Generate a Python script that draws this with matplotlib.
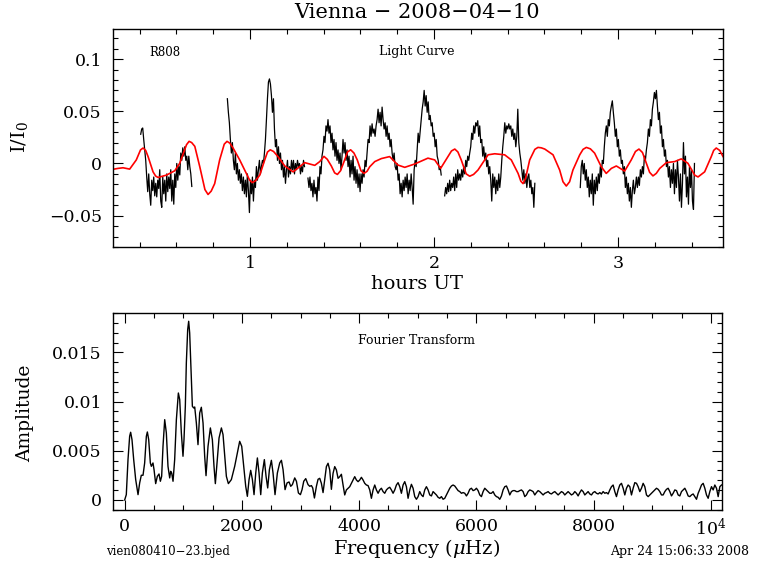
import numpy as np
import matplotlib
matplotlib.use('Agg')
import matplotlib.pyplot as plt
from matplotlib.ticker import MultipleLocator, FuncFormatter

plt.rcParams['font.family'] = ['DejaVu Serif']
plt.rcParams['mathtext.fontset'] = 'dejavuserif'

# ---- light curve (hours UT, relative intensity), 5 runs with gaps ----
cadence_h = 19.6 / 3600.0
seg_start = [0.406, 0.877, 1.315, 2.058, 2.795]

seg1 = [0.028, 0.033, 0.034, 0.023, 0.013, 0.003, -0.013, -0.027, -0.010, -0.029,
        -0.040, -0.016, -0.026, -0.013, -0.031, -0.019, -0.032, -0.016, -0.024, -0.006,
        -0.036, -0.042, -0.013, -0.029, -0.016, -0.036, -0.010, -0.027, -0.013, -0.024,
        -0.006, -0.036, -0.016, -0.039, -0.010, -0.023, 0.000, -0.016, -0.003, -0.011,
        0.010, 0.003, 0.015, 0.007, 0.016, 0.003, 0.007, -0.006, 0.007, -0.003,
        -0.010, -0.022]
seg2 = [0.062, 0.049, 0.039, 0.023, 0.010, 0.020, 0.003, -0.006, 0.010, -0.010,
        0.000, -0.016, -0.006, -0.019, -0.010, -0.026, -0.013, -0.029, -0.016, -0.032,
        -0.010, -0.026, -0.047, -0.016, -0.029, -0.013, -0.036, -0.016, -0.023, -0.003,
        -0.016, -0.006, 0.003, -0.010, -0.003, 0.003, 0.000, 0.010, 0.023, 0.042,
        0.062, 0.078, 0.081, 0.076, 0.065, 0.049, 0.062, 0.033, 0.016, 0.023,
        0.003, 0.016, 0.000, 0.010, -0.006, 0.003, -0.013, -0.003, -0.019, -0.006,
        0.003, -0.013, -0.003, -0.010, 0.003, -0.006, 0.003, -0.010, 0.000, -0.006,
        0.003, -0.003, 0.000, -0.010, -0.003, -0.008, 0.003, -0.003]
seg3 = [-0.014, -0.023, -0.013, -0.026, -0.019, -0.032, -0.016, -0.029, -0.023, -0.036,
        -0.013, -0.026, -0.003, -0.010, 0.007, 0.013,
        0.026, 0.020, 0.036, 0.031, 0.042, 0.029, 0.036, 0.020, 0.029, 0.013,
        0.023, 0.007, 0.020, 0.003, 0.013, 0.000, 0.010, -0.006, 0.007, 0.023,
        0.010, 0.020, 0.003, 0.013, -0.003, 0.007, -0.013, 0.003, -0.010, 0.007,
        -0.016, -0.003, -0.019, -0.006, -0.023, -0.010, -0.027, -0.010, -0.019, -0.006,
        -0.013, 0.003, -0.003, 0.010, 0.023, 0.020, 0.036, 0.026, 0.038, 0.029,
        0.033, 0.026, 0.036, 0.042, 0.052, 0.039, 0.049, 0.036, 0.054, 0.042,
        0.033, 0.039, 0.026, 0.036, 0.023, 0.029, 0.016, 0.023, 0.010, 0.003,
        0.010, -0.003, -0.006, 0.000, -0.016, -0.010, -0.029, -0.019, -0.032, -0.016,
        -0.026, -0.013, -0.023, -0.010, -0.029, -0.016, -0.026, -0.010, -0.023, -0.039,
        -0.006, 0.003, -0.003, 0.013, 0.029, 0.020, 0.031, 0.042, 0.052, 0.059,
        0.070, 0.055, 0.065, 0.049, 0.059, 0.042, 0.046, 0.036, 0.039, 0.026,
        0.029, 0.016, 0.023, 0.007, 0.003, -0.006, -0.003, -0.011]
seg4 = [-0.031, -0.023, -0.029, -0.019, -0.027, -0.016, -0.026, -0.019, -0.023, -0.013,
        -0.026, -0.010, -0.023, -0.006, -0.016, -0.010, -0.016, -0.006, -0.013, -0.003,
        -0.010, 0.003, -0.003, 0.007, 0.003, 0.010, 0.016, 0.029, 0.023, 0.036,
        0.029, 0.039, 0.036, 0.041, 0.026, 0.036, 0.020, 0.023, 0.007, 0.016,
        0.003, 0.010, -0.003, 0.003, -0.010, -0.003, -0.016, -0.036, -0.010, -0.023,
        -0.013, -0.029, -0.016, -0.026, -0.010, -0.023, -0.013, 0.003, 0.016, 0.026,
        0.039, 0.029, 0.036, 0.033, 0.038, 0.033, 0.036, 0.026, 0.033, 0.023,
        0.029, 0.016, 0.026, 0.052, 0.020, 0.010, 0.003, -0.006, -0.016, -0.006,
        -0.019, -0.010, -0.023, -0.013, -0.010, -0.023, -0.016, -0.029, -0.023, -0.042,
        -0.019]
seg5 = [-0.023, -0.003, 0.003, -0.010, 0.000, -0.016, -0.006, -0.023, -0.013, -0.032,
        -0.016, -0.029, -0.010, -0.040, -0.016, -0.029, -0.013, -0.026, -0.010, -0.019,
        -0.003, -0.013, 0.003, 0.000, 0.016, 0.029, 0.036, 0.026, 0.042, 0.036,
        0.049, 0.055, 0.060, 0.049, 0.039, 0.026, 0.033, 0.016, 0.023, 0.007,
        0.013, 0.000, 0.003, -0.010, -0.003, -0.023, -0.013, -0.029, -0.019, -0.036,
        -0.023, -0.042, -0.026, -0.016, -0.029, -0.023, -0.013, -0.023, -0.013, -0.021,
        -0.006, -0.013, -0.003, -0.010, 0.007, 0.003, 0.013, 0.020, 0.033, 0.026,
        0.042, 0.036, 0.052, 0.059, 0.068, 0.062, 0.070, 0.055, 0.042, 0.049,
        0.029, 0.036, 0.016, 0.023, 0.007, 0.013, -0.003, 0.003, -0.013, -0.003,
        -0.023, -0.006, -0.019, 0.000, -0.029, -0.006, -0.023, 0.003, -0.013, -0.036,
        -0.010, -0.042, -0.019, 0.020, -0.010, 0.007, -0.032, -0.013, -0.039, -0.003,
        -0.023, -0.006, -0.036, -0.044, 0.000]
segments = [seg1, seg2, seg3, seg4, seg5]

# ---- multi-sine fit (red) ----
fit_hours = [0.255, 0.283, 0.310, 0.346, 0.382, 0.405, 0.419, 0.433, 0.446, 0.473,
             0.487, 0.500, 0.545, 0.591, 0.618, 0.645, 0.655, 0.669, 0.683, 0.700,
             0.727, 0.755, 0.772, 0.789, 0.808, 0.835, 0.860, 0.875, 0.890, 0.908,
             0.944, 0.980, 0.998, 1.013, 1.030, 1.053, 1.080, 1.095, 1.110, 1.128,
             1.152, 1.189, 1.234, 1.270, 1.297, 1.325, 1.352, 1.379, 1.402, 1.420,
             1.442, 1.460, 1.475, 1.492, 1.511, 1.530, 1.547, 1.565, 1.583, 1.603,
             1.620, 1.636, 1.651, 1.678, 1.714, 1.759, 1.804, 1.841, 1.895, 1.967,
             2.004, 2.036, 2.076, 2.095, 2.113, 2.130, 2.148, 2.175, 2.194, 2.215,
             2.239, 2.294, 2.330, 2.384, 2.420, 2.457, 2.472, 2.484, 2.498, 2.520,
             2.548, 2.565, 2.583, 2.602, 2.647, 2.683, 2.701, 2.719, 2.737, 2.755,
             2.792, 2.810, 2.828, 2.850, 2.873, 2.909, 2.936, 2.964, 2.991, 3.036,
             3.072, 3.095, 3.114, 3.133, 3.154, 3.172, 3.190, 3.208, 3.227, 3.263,
             3.308, 3.344, 3.380, 3.417, 3.435, 3.471, 3.507, 3.520, 3.534, 3.553,
             3.571]
fit_flux = [-0.0056, -0.0047, -0.0041, -0.0054, 0.0034, 0.0130, 0.0148, 0.0125, 0.0066, -0.0080,
            -0.0120, -0.0134, -0.0112, -0.0070, 0.0002, 0.0131, 0.0180, 0.0212, 0.0200, 0.0164,
            -0.0031, -0.0250, -0.0297, -0.0265, -0.0193, 0.0034, 0.0185, 0.0212, 0.0195, 0.0148,
            0.0034, -0.0095, -0.0160, -0.0183, -0.0165, -0.0112, 0.0034, 0.0110, 0.0131, 0.0115,
            0.0066, -0.0024, -0.0080, -0.0031, 0.0008, -0.0005, -0.0018, 0.0018, 0.0068, 0.0040,
            -0.0024, -0.0090, -0.0105, -0.0070, 0.0018, 0.0110, 0.0131, 0.0100, 0.0034, -0.0070,
            -0.0095, -0.0075, -0.0031, 0.0018, 0.0047, 0.0066, -0.0015, -0.0037, -0.0005, 0.0051,
            0.0034, -0.0047, 0.0066, 0.0120, 0.0138, 0.0110, 0.0034, -0.0100, -0.0122, -0.0105,
            -0.0063, 0.0083, 0.0093, 0.0083, 0.0034, -0.0095, -0.0170, -0.0193, -0.0140, 0.0034,
            0.0135, 0.0154, 0.0150, 0.0138, 0.0083, -0.0063, -0.0175, -0.0216, -0.0175, -0.0063,
            0.0083, 0.0135, 0.0154, 0.0140, 0.0099, -0.0031, -0.0095, -0.0047, -0.0024, -0.0073,
            0.0034, 0.0115, 0.0138, 0.0105, 0.0002, -0.0085, -0.0119, -0.0095, -0.0047, 0.0008,
            0.0018, 0.0044, 0.0002, -0.0112, -0.0129, -0.0080, 0.0066, 0.0125, 0.0148, 0.0125,
            0.0066]

# ---- amplitude spectrum ----
ft_freq_low = [0, 28, 57, 85, 102, 125, 154, 188, 228, 256,
               284, 313, 341, 370, 387, 410, 438, 455, 483, 501,
               529, 557, 586, 609, 631, 654, 683, 711, 739, 768,
               785, 802, 825, 853, 882, 916, 939, 967, 995, 1012,
               1035, 1052, 1075, 1092, 1109, 1138, 1155, 1177, 1195, 1223,
               1251, 1280, 1308, 1337, 1365, 1388, 1422, 1462, 1496, 1524,
               1547, 1581, 1610, 1650, 1678, 1707, 1735, 1769, 1820, 1877,
               1923, 1962, 1997, 2031, 2065, 2093, 2122, 2150, 2179, 2207,
               2236, 2264, 2292, 2321, 2349, 2383, 2412, 2440, 2469, 2503,
               2531, 2565, 2605, 2645, 2674, 2702, 2736, 2770, 2804, 2833,
               2861, 2901, 2930, 2964, 2998, 3026, 3055, 3089, 3128, 3157,
               3186, 3208, 3237, 3271]
ft_amp_low = [0.00000, 0.00054, 0.00410, 0.00647, 0.00688, 0.00613, 0.00410, 0.00207, 0.00054, 0.00173,
              0.00251, 0.00251, 0.00376, 0.00647, 0.00691, 0.00613, 0.00376, 0.00342, 0.00376, 0.00308,
              0.00166, 0.00240, 0.00264, 0.00190, 0.00240, 0.00545, 0.00816, 0.00681, 0.00342, 0.00224,
              0.00291, 0.00274, 0.00190, 0.00410, 0.00816, 0.01087, 0.01020, 0.00681, 0.00444, 0.00613,
              0.00952, 0.01392, 0.01731, 0.01816, 0.01697, 0.01223, 0.00952, 0.00935, 0.00945, 0.00782,
              0.00562, 0.00884, 0.00942, 0.00782, 0.00444, 0.00247, 0.00545, 0.00732, 0.00613, 0.00342,
              0.00166, 0.00410, 0.00630, 0.00732, 0.00664, 0.00444, 0.00240, 0.00166, 0.00207, 0.00342,
              0.00478, 0.00596, 0.00545, 0.00342, 0.00139, 0.00037, 0.00207, 0.00301, 0.00207, 0.00054,
              0.00274, 0.00427, 0.00274, 0.00054, 0.00274, 0.00410, 0.00240, 0.00122, 0.00308, 0.00403,
              0.00274, 0.00054, 0.00274, 0.00376, 0.00403, 0.00308, 0.00105, 0.00173, 0.00183, 0.00139,
              0.00156, 0.00224, 0.00190, 0.00071, 0.00054, 0.00105, 0.00190, 0.00217, 0.00156, 0.00139,
              0.00146, 0.00122, 0.00020, 0.00139]
# above 3300 uHz the spectrum is listed on a regular grid
ft_high_start = 3299.0
ft_high_step = 28.44
ft_amp_high = [0.00210, 0.00220, 0.00169, 0.00075, 0.00203, 0.00339, 0.00373, 0.00305, 0.00108, 0.00271,
               0.00339, 0.00305, 0.00220, 0.00237, 0.00261, 0.00152, 0.00051, 0.00102, 0.00119, 0.00135,
               0.00169, 0.00203, 0.00237, 0.00203, 0.00186, 0.00203, 0.00230, 0.00203, 0.00169, 0.00152,
               0.00146, 0.00102, 0.00017, 0.00102, 0.00152, 0.00102, 0.00068, 0.00102, 0.00119, 0.00085,
               0.00068, 0.00102, 0.00119, 0.00129, 0.00102, 0.00068, 0.00102, 0.00152, 0.00176, 0.00135,
               0.00068, 0.00152, 0.00186, 0.00135, 0.00017, 0.00102, 0.00159, 0.00119, 0.00034, 0.00007,
               0.00034, 0.00085, 0.00051, 0.00034, 0.00102, 0.00135, 0.00102, 0.00051, 0.00041, 0.00085,
               0.00068, 0.00051, 0.00027, 0.00017, 0.00034, 0.00007, 0.00017, 0.00051, 0.00085, 0.00119,
               0.00142, 0.00152, 0.00142, 0.00119, 0.00095, 0.00085, 0.00068, 0.00075, 0.00068, 0.00041,
               0.00068, 0.00108, 0.00119, 0.00095, 0.00102, 0.00119, 0.00095, 0.00051, 0.00034, 0.00085,
               0.00119, 0.00102, 0.00085, 0.00068, 0.00068, 0.00085, 0.00051, 0.00034, 0.00027, 0.00007,
               0.00041, 0.00102, 0.00135, 0.00142, 0.00102, 0.00051, 0.00085, 0.00095, 0.00095, 0.00085,
               0.00085, 0.00095, 0.00102, 0.00085, 0.00034, 0.00051, 0.00085, 0.00102, 0.00095, 0.00085,
               0.00051, 0.00075, 0.00095, 0.00085, 0.00068, 0.00051, 0.00068, 0.00075, 0.00085, 0.00068,
               0.00061, 0.00075, 0.00085, 0.00068, 0.00051, 0.00068, 0.00085, 0.00075, 0.00051, 0.00068,
               0.00085, 0.00068, 0.00051, 0.00061, 0.00085, 0.00068, 0.00041, 0.00075, 0.00102, 0.00085,
               0.00051, 0.00068, 0.00085, 0.00061, 0.00051, 0.00075, 0.00085, 0.00068, 0.00061, 0.00075,
               0.00061, 0.00085, 0.00068, 0.00075, 0.00061, 0.00102, 0.00135, 0.00152, 0.00085, 0.00034,
               0.00102, 0.00152, 0.00169, 0.00119, 0.00051, 0.00119, 0.00152, 0.00135, 0.00051, 0.00119,
               0.00176, 0.00169, 0.00135, 0.00085, 0.00119, 0.00169, 0.00135, 0.00051, 0.00034, 0.00051,
               0.00068, 0.00085, 0.00102, 0.00119, 0.00108, 0.00085, 0.00051, 0.00051, 0.00085, 0.00108,
               0.00119, 0.00085, 0.00041, 0.00068, 0.00102, 0.00095, 0.00051, 0.00041, 0.00085, 0.00102,
               0.00119, 0.00085, 0.00041, 0.00034, 0.00051, 0.00061, 0.00034, 0.00007, 0.00068, 0.00108,
               0.00152, 0.00169, 0.00119, 0.00051, 0.00017, 0.00085, 0.00135, 0.00102, 0.00152, 0.00119,
               0.00034, 0.00135, 0.00152]

ft_freq = np.concatenate([ft_freq_low, ft_high_start + ft_high_step * np.arange(len(ft_amp_high))])
ft_amp = np.concatenate([ft_amp_low, ft_amp_high])


def fmt_num(v, pos):
    v = round(v, 6) + 0.0
    if v == 10000:
        return r'10$^4$'
    return ('%g' % v).replace('-', '\u2212')


fig = plt.figure(figsize=(7.68, 5.74), dpi=100)
W, H = 768.0, 574.0

ax1 = fig.add_axes([113 / W, 1 - 247 / H, 610 / W, 218 / H])
for t0, seg in zip(seg_start, segments):
    t = t0 + cadence_h * np.arange(len(seg))
    ax1.plot(t, seg, color='black', lw=0.9)
ax1.plot(fit_hours, fit_flux, color='red', lw=1.2)
ax1.set_xlim(0.2554, 3.5707)
ax1.set_ylim(-0.0800, 0.1288)
ax1.xaxis.set_major_locator(MultipleLocator(1))
ax1.xaxis.set_minor_locator(MultipleLocator(0.2))
ax1.yaxis.set_major_locator(MultipleLocator(0.05))
ax1.yaxis.set_minor_locator(MultipleLocator(0.01))

ax2 = fig.add_axes([113 / W, 1 - 510 / H, 609 / W, 197 / H])
ax2.plot(ft_freq, ft_amp, color='black', lw=1.0)
ax2.set_xlim(-199, 10190)
ax2.set_ylim(-0.00102, 0.0190)
ax2.xaxis.set_major_locator(MultipleLocator(2000))
ax2.xaxis.set_minor_locator(MultipleLocator(500))
ax2.yaxis.set_major_locator(MultipleLocator(0.005))
ax2.yaxis.set_minor_locator(MultipleLocator(0.001))

for ax in (ax1, ax2):
    ax.tick_params(which='both', direction='in', top=True, right=True, width=0.8,
                   labelsize=12.5, color='black')
    ax.tick_params(which='major', length=7)
    ax.tick_params(which='minor', length=3.5)
    ax.tick_params(axis='y', pad=8)
    ax.tick_params(axis='x', pad=6)
    ax.xaxis.set_major_formatter(FuncFormatter(fmt_num))
    ax.yaxis.set_major_formatter(FuncFormatter(fmt_num))
    for s in ax.spines.values():
        s.set_linewidth(1.0)


def ftext(x, y, s, **kw):
    fig.text(x / W, 1 - y / H, s, ha='center', va='center', **kw)


ftext(417, 13, 'Vienna \u2212 2008\u221204\u221210', fontsize=15)
ftext(417, 284, 'hours UT', fontsize=14)
ftext(20, 137, r'I/I$_0$', fontsize=14, rotation=90)
ftext(165, 52, 'R808', fontsize=8.5)
ftext(417, 52, 'Light Curve', fontsize=9)
ftext(417, 341, 'Fourier Transform', fontsize=9)
ftext(25, 413, 'Amplitude', fontsize=13.5, rotation=90)
ftext(417, 549, r'Frequency ($\mu$Hz)', fontsize=14)
ftext(168, 551, 'vien080410\u221223.bjed', fontsize=8.5)
ftext(680, 551, 'Apr 24 15:06:33 2008', fontsize=9)

fig.savefig('out.png', dpi=100)
